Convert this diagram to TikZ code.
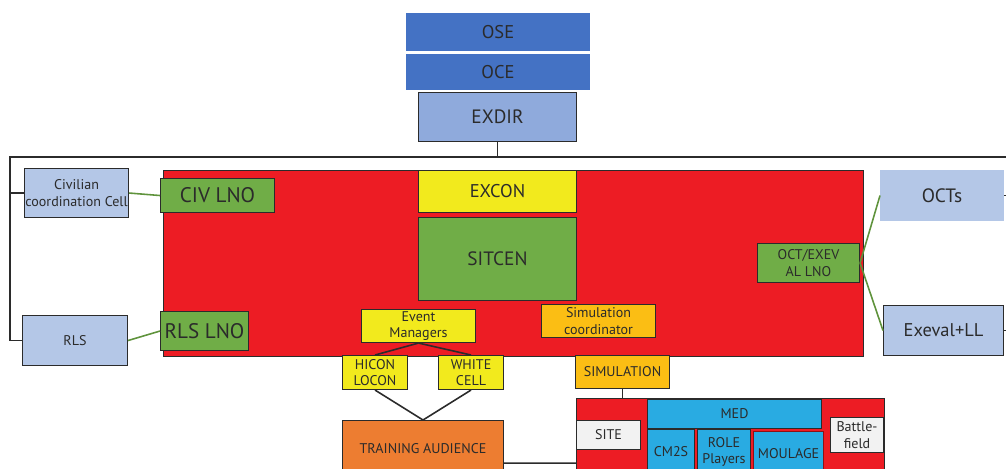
\documentclass[tikz,border=0pt]{standalone}
\usepackage{fontspec}
\setmainfont{PT Sans}

\definecolor{darkblue}{HTML}{4472C4}
\definecolor{midblue}{HTML}{8FAADC}
\definecolor{paleblue}{HTML}{B4C7E7}
\definecolor{redfill}{HTML}{ED1C24}
\definecolor{greenfill}{HTML}{70AD47}
\definecolor{yellowfill}{HTML}{F2EA1D}
\definecolor{amberfill}{HTML}{FBBE14}
\definecolor{orangefill}{HTML}{ED7D31}
\definecolor{cyanfill}{HTML}{29ABE2}
\definecolor{greyfill}{HTML}{F2F2F2}
\definecolor{inkcol}{HTML}{2B2B2B}

\begin{document}
\begin{tikzpicture}[x = 0.02cm, y = -0.02cm,
	box/.style = {draw = inkcol, line width = 0.6pt, inner sep = 0pt, anchor = north west,
		align = center, text = inkcol, font = \fontsize{8}{9.5}\selectfont},
	link/.style = {greenfill!85!black, line width = 0.9pt},
	wire/.style = {inkcol, line width = 0.9pt}]

	\useasboundingbox (0, 0) rectangle (1006, 468);

	% Command chain
	
	\node [box, draw = white, fill = darkblue, minimum width = 3.7cm, minimum height = 0.78cm,
		font = \fontsize{10.5}{12}\selectfont] (ose) at (405, 12) {OSE};
	\node [box, draw = white, fill = darkblue, minimum width = 3.7cm, minimum height = 0.74cm,
		font = \fontsize{10.5}{12}\selectfont] (oce) at (405, 53) {OCE};
	\node [box, fill = midblue, minimum width = 3.16cm, minimum height = 0.98cm,
		font = \fontsize{11}{13}\selectfont] (exdir) at (418, 92) {EXDIR};
	
	% Exercise control area
	
	\node [box, fill = redfill, minimum width = 14cm, minimum height = 3.72cm] (excarea) at (163, 170) {};
	\node [box, fill = yellowfill, minimum width = 3.16cm, minimum height = 0.84cm,
		font = \fontsize{10.5}{12}\selectfont] (excon) at (418, 170) {EXCON};
	\node [box, fill = greenfill, minimum width = 3.16cm, minimum height = 1.66cm,
		font = \fontsize{11}{13}\selectfont] (sitcen) at (418, 217) {SITCEN};
	\node [box, fill = greenfill, minimum width = 2.28cm, minimum height = 0.68cm,
		font = \fontsize{12}{14}\selectfont] (civlno) at (160, 178) {CIV LNO};
	\node [box, fill = greenfill, minimum width = 1.76cm, minimum height = 0.78cm,
		font = \fontsize{12}{14}\selectfont] (rlslno) at (160, 311) {RLS LNO};
	\node [box, fill = greenfill, minimum width = 2.04cm, minimum height = 0.78cm] (octlno) at (757, 243) {OCT/EXEV\\AL LNO};
	\node [box, fill = amberfill, minimum width = 2.28cm, minimum height = 0.66cm] (simcoord) at (541, 304) {Simulation\\coordinator};
	\node [box, fill = yellowfill, minimum width = 2.28cm, minimum height = 0.66cm] (evmgr) at (361, 309) {Event\\Managers};
	
	% Outside cells
	
	\node [box, fill = paleblue, minimum width = 2.08cm, minimum height = 0.98cm] (civcell) at (24, 168) {Civilian\\coordination Cell};
	\node [box, fill = paleblue, minimum width = 2.1cm, minimum height = 1cm] (rls) at (22, 315) {RLS};
	\node [box, draw = paleblue, fill = paleblue, minimum width = 2.46cm, minimum height = 1cm,
		font = \fontsize{11}{13}\selectfont] (octs) at (880, 170) {OCTs};
	\node [box, fill = paleblue, minimum width = 2.4cm, minimum height = 1cm,
		font = \fontsize{10.5}{12}\selectfont] (exeval) at (883, 305) {Exeval+LL};
	
	% Lower cells
	
	\node [box, fill = yellowfill, minimum width = 1.3cm, minimum height = 0.68cm] (hicon) at (342, 355) {HICON\\LOCON};
	\node [box, fill = yellowfill, minimum width = 1.3cm, minimum height = 0.68cm] (whitecell) at (438, 355) {WHITE\\CELL};
	\node [box, fill = orangefill, minimum width = 3.22cm, minimum height = 1.12cm] (trainaud) at (342, 420) {TRAINING AUDIENCE};
	\node [box, fill = amberfill, minimum width = 1.88cm, minimum height = 0.66cm] (simulation) at (575, 355) {SIMULATION};
	
	% Simulation area
	
	\node [box, fill = redfill, minimum width = 6.16cm, minimum height = 1.56cm] (simarea) at (576, 398) {};
	\node [box, fill = greyfill, minimum width = 1.28cm, minimum height = 0.58cm] (site) at (576, 420) {SITE};
	\node [box, fill = cyanfill, minimum width = 3.48cm, minimum height = 0.58cm] (med) at (647, 399) {MED};
	\node [box, fill = cyanfill, minimum width = 0.94cm, minimum height = 0.9cm] (cmtwos) at (647, 429) {CM2S};
	\node [box, fill = cyanfill, minimum width = 1.06cm, minimum height = 0.9cm] (roleplay) at (697, 429) {ROLE\\Players};
	\node [box, draw = redfill!60!black, fill = cyanfill, minimum width = 1.4cm, minimum height = 0.9cm] (moulage) at (753, 431) {MOULAGE};
	\node [box, fill = greyfill, minimum width = 1.06cm, minimum height = 0.7cm] (battle) at (830, 417) {Battle-\\field};
	
	% Black connectors
	
	\coordinate (busleft) at (10, 157);
	\coordinate (busright) at (1006, 157);
	\draw [wire] (exdir.south) -- (exdir.south |- busleft);
	\draw [wire] (busright) -- (busleft) |- (rls.west);
	\draw [wire] (civcell.west) -- (civcell.west -| busleft);
	\draw [wire] (octs.east) -- ++(3, 0);
	\draw [wire] (exeval.east) -- ++(3, 0);
	\draw [wire] (evmgr.south) -- (hicon.north);
	\draw [wire] (evmgr.south) -- (whitecell.north);
	\draw [wire] (hicon.south) -- (trainaud.north);
	\draw [wire] (whitecell.south) -- (trainaud.north);
	\draw [wire] (simulation.south) -- (simulation.south |- simarea.north);
	\draw [wire] ([yshift = 0.28cm] trainaud.south east) -- ([yshift = 0.28cm] simarea.south west);
	
	% Liaison links
	
	\draw [link] (civcell.east) -- (civlno.west);
	\draw [link] (rls.east) -- (rlslno.west);
	\draw [link] (octlno.east) -- (octs.west);
	\draw [link] (octlno.east) -- (exeval.west);
	
\end{tikzpicture}
\end{document}
